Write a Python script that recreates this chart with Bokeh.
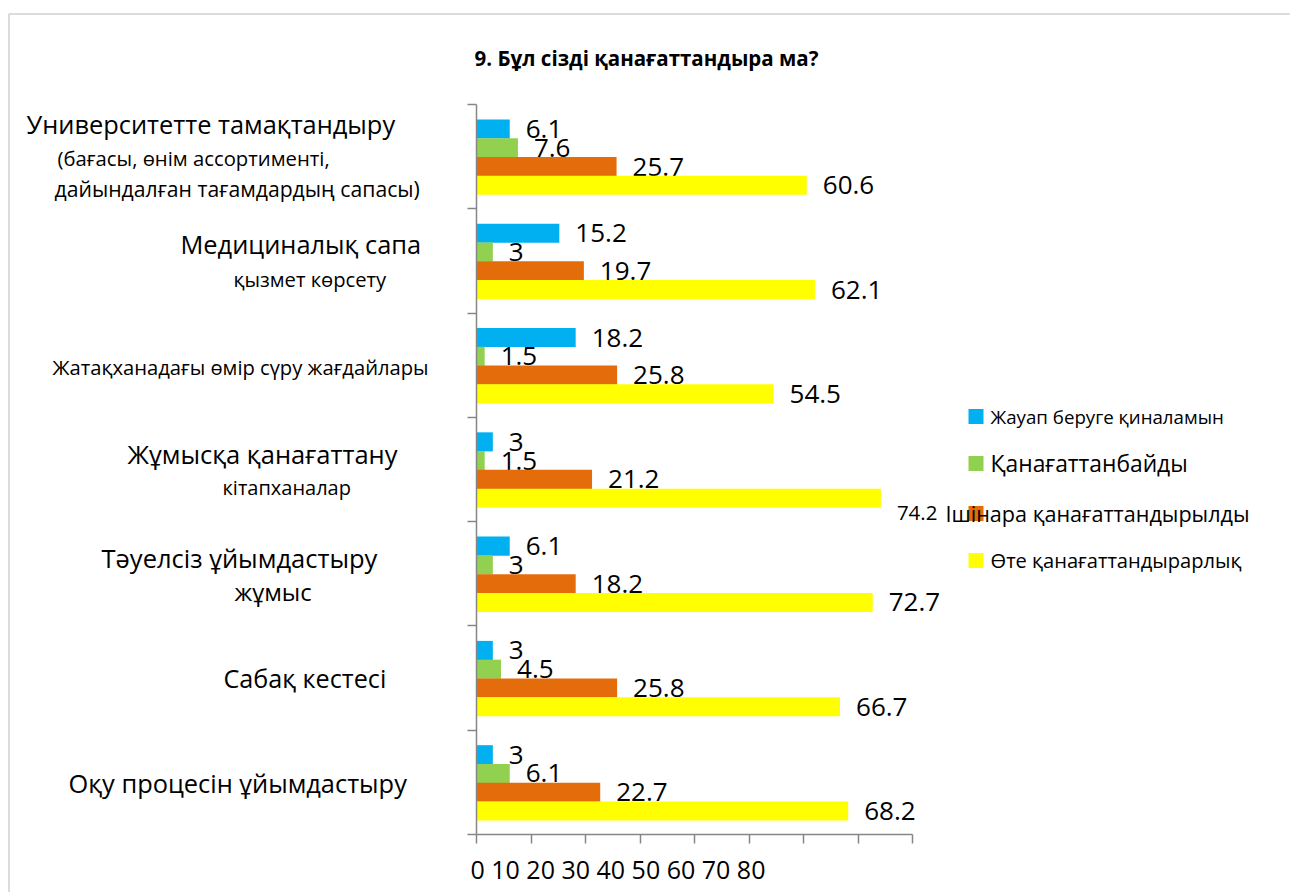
from bokeh.plotting import figure
from bokeh.models import (Range1d, FixedTicker, Label, BoxAnnotation, ColumnDataSource)
from bokeh.transform import dodge
from bokeh.core.properties import value
from bokeh.embed import file_html
from bokeh.resources import INLINE

# ---------------- data ----------------
title = "9. Бұл сізді қанағаттандыра ма?"
categories = [
    "Университетте тамақтандыру",
    "Медициналық сапа",
    "Жатақханадағы өмір сүру жағдайлары",
    "Жұмысқа қанағаттану",
    "Тәуелсіз ұйымдастыру",
    "Сабақ кестесі",
    "Оқу процесін ұйымдастыру",
]
category_sublines = [
    ["(бағасы, өнім ассортименті,", "дайындалған тағамдардың сапасы)"],
    ["қызмет көрсету"],
    [],
    ["кітапханалар"],
    ["жұмыс"],
    [],
    [],
]
series = ["Жауап беруге қиналамын", "Қанағаттанбайды",
          "Ішінара қанағаттандырылды", "Өте қанағаттандырарлық"]
hard_to_answer = [6.1, 15.2, 18.2, 3, 6.1, 3, 3]
not_satisfied = [7.6, 3, 1.5, 1.5, 3, 4.5, 6.1]
partially_satisfied = [25.7, 19.7, 25.8, 21.2, 18.2, 25.8, 22.7]
very_satisfied = [60.6, 62.1, 54.5, 74.2, 72.7, 66.7, 68.2]
x_ticks = [0, 10, 20, 30, 40, 50, 60, 70, 80]
tick_labels = [str(t) for t in x_ticks]

values_by_series = [hard_to_answer, not_satisfied, partially_satisfied, very_satisfied]
colors = ["#00B0F0", "#92D050", "#E46C0A", "#FFFF00"]

# ---------------- layout (page pixels; canvas starts at page 0,0) ----------------
W, H = 1290, 892
AX_L, AX_R = 476, 912          # x=0 and x=80 on the page
AX_T, AX_B = 104, 834          # top and bottom of the category axis
n_cat = len(categories)
px_per_x = (AX_R - AX_L) / (x_ticks[-1] - x_ticks[0])
px_per_band = (AX_B - AX_T) / n_cat
x_range = Range1d(-AX_L / px_per_x, (W - AX_L) / px_per_x)
y_range = Range1d((AX_B - H) / px_per_band, AX_B / px_per_band)
band_pos = [n_cat - i - 0.5 for i in range(n_cat)]   # first category on top

FONT = "Open Sans"
AX_COLOR = "#868686"

p = figure(width=W, height=H, x_range=x_range, y_range=y_range, title=None,
           output_backend="svg", toolbar_location=None,
           min_border=0, min_border_left=0, min_border_right=0,
           min_border_top=0, min_border_bottom=0)
p.outline_line_color = None
p.grid.visible = False
p.background_fill_color = "white"
p.border_fill_color = "white"

xa = p.xaxis[0]
xa.ticker = FixedTicker(ticks=x_ticks)
xa.bounds = (x_ticks[0], x_ticks[-1])
xa.fixed_location = 0
xa.major_label_overrides = {t: "" for t in x_ticks}

ya = p.yaxis[0]
ya.ticker = FixedTicker(ticks=list(range(n_cat + 1)))
ya.bounds = (0, n_cat)
ya.fixed_location = 0
ya.major_label_overrides = {i: "" for i in range(n_cat + 1)}

for ax in (xa, ya):
    ax.axis_line_color = AX_COLOR
    ax.axis_line_width = 1.5
    ax.major_tick_line_color = AX_COLOR
    ax.major_tick_line_width = 1.5
    ax.major_tick_out = 9
    ax.major_tick_in = 0
    ax.minor_tick_line_color = None

# ---------------- bars + value labels ----------------
offsets = [0.265, 0.085, -0.095, -0.275]
bar_h = 0.183
VAL_FS = "26px"
displaced = {(3, 3): ("20.5px", 15)}   # the 74.2 label sits lower and smaller

for s, (vals, col, off) in enumerate(zip(values_by_series, colors, offsets)):
    src = ColumnDataSource(dict(
        pos=band_pos, cat=categories, val=vals, txt=[f"{v:g}" for v in vals],
        fs=[displaced.get((i, s), (VAL_FS, 0))[0] for i in range(len(vals))],
        dy=[displaced.get((i, s), (VAL_FS, 0))[1] for i in range(len(vals))],
    ))
    ycoord = dodge("pos", off)
    p.hbar(y=ycoord, left=0, right="val", height=bar_h, source=src,
           fill_color=col, line_color=None)
    p.text(x="val", y=ycoord, text="txt", source=src, x_offset=16, y_offset="dy",
           text_font=value(FONT), text_font_size="fs", text_color="black",
           text_align="left", text_baseline="middle")

# ---------------- outer border ----------------
p.add_layout(BoxAnnotation(left=8.5, right=W + 50, top=H - 13.5, bottom=-50,
                           left_units="screen", right_units="screen",
                           top_units="screen", bottom_units="screen",
                           fill_color=None, line_color="#8a8a8a", line_width=2))


# ---------------- texts ----------------
def put(text, px, py, size, align="left", bold=False):
    p.add_layout(Label(x=px, y=H - py, x_units="screen", y_units="screen",
                       text=text, text_font=FONT, text_font_size=f"{size}px",
                       text_font_style="bold" if bold else "normal",
                       text_color="black", text_align=align,
                       text_baseline="middle"))


put(title, 646, 57, 20.5, align="center", bold=True)

main_pos = [(26, 123, 25.4), (180, 243, 25.4), (52, 366, 20.2), (127, 453, 25.5),
            (101, 557, 25.5), (223, 677, 25.2), (68, 782, 25.4)]
sub_pos = [[(57, 157, 20.3), (54, 188, 21.2)], [(233, 278, 20.2)], [],
           [(222, 487, 20)], [(234, 591, 24)], [], []]
for cat, (px, py, sz), subs, sp in zip(categories, main_pos, category_sublines, sub_pos):
    put(cat, px, py, sz)
    for line, (sx, sy, ss) in zip(subs, sp):
        put(line, sx, sy, ss)

# the tick labels, printed as one row under the axis
put(" ".join(tick_labels), 470, 868, 25)

# ---------------- legend ----------------
leg_y = [416, 463, 513, 560]
leg_text_x = [990, 990, 945, 990]
leg_size = [18.7, 22.8, 21.6, 20.1]
for name, col, yc, tx, sz in zip(series, colors, leg_y, leg_text_x, leg_size):
    p.add_layout(BoxAnnotation(left=968, right=983, top=H - (yc - 7.5),
                               bottom=H - (yc + 7.5),
                               left_units="screen", right_units="screen",
                               top_units="screen", bottom_units="screen",
                               fill_color=col, fill_alpha=1, line_color=None))
    put(name, tx, yc, sz)

open("out.html", "w").write(file_html(p, INLINE))
